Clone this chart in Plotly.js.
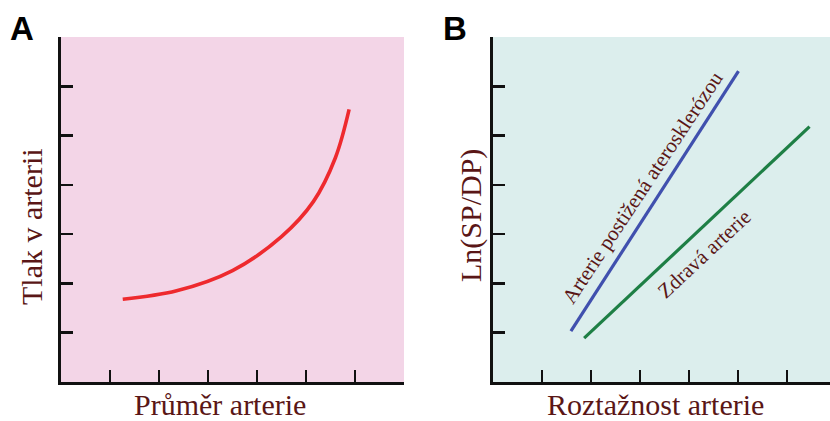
<!DOCTYPE html>
<html>
<head>
<meta charset="utf-8">
<script src="https://cdn.plot.ly/plotly-3.0.1.min.js"></script>
<style>
  html, body { margin: 0; padding: 0; background: #ffffff; overflow: hidden; }
  #chart { width: 830px; height: 421px; }
</style>
</head>
<body>
<div id="chart"></div>
<script>
// Panel A: arterial pressure as a function of arterial diameter
const diameterA = [1.26, 2.36, 3.50, 4.50, 5.15, 5.60, 5.88];
const pressureA = [1.68, 1.85, 2.26, 2.95, 3.66, 4.55, 5.53];

// Panel B: ln(SP/DP) against arterial distensibility
const distensAthero = [1.59, 5.01];
const lnRatioAthero = [1.03, 6.31];
const distensHealthy = [1.86, 6.46];
const lnRatioHealthy = [0.89, 5.18];

const tickValues = [1, 2, 3, 4, 5, 6, 7];
const labelAthero = 'Arterie postižená aterosklerózou';
const labelHealthy = 'Zdravá arterie';
const titleAx = 'Průměr arterie';
const titleAy = 'Tlak v arterii';
const titleBx = 'Roztažnost arterie';
const titleBy = 'Ln(SP/DP)';

const W = 830, H = 421;
const px = v => v / W;
const py = v => 1 - v / H;

const serif = 'Liberation Serif, Times New Roman, serif';
const maroon = '#5a1616';

const axisStyle = {
  showline: true, linecolor: '#111', linewidth: 2.8,
  ticks: 'inside', ticklen: 12, tickwidth: 2.6, tickcolor: '#111',
  tickvals: tickValues, showticklabels: false,
  showgrid: false, zeroline: false, fixedrange: true
};

const traces = [
  { x: diameterA, y: pressureA, xaxis: 'x', yaxis: 'y', mode: 'lines',
    line: { color: '#ee2a2e', width: 3.6, shape: 'spline', smoothing: 1 },
    hoverinfo: 'skip', showlegend: false },
  { x: distensAthero, y: lnRatioAthero, xaxis: 'x2', yaxis: 'y2', mode: 'lines',
    line: { color: '#4050ae', width: 3.2 }, hoverinfo: 'skip', showlegend: false },
  { x: distensHealthy, y: lnRatioHealthy, xaxis: 'x2', yaxis: 'y2', mode: 'lines',
    line: { color: '#1e7f45', width: 3.2 }, hoverinfo: 'skip', showlegend: false }
];

const layout = {
  width: W, height: H,
  margin: { l: 0, r: 0, t: 0, b: 0 },
  paper_bgcolor: '#ffffff', plot_bgcolor: 'rgba(0,0,0,0)',
  showlegend: false,
  xaxis: Object.assign({}, axisStyle, { domain: [px(61), px(404)], range: [0, 7], anchor: 'y' }),
  yaxis: Object.assign({}, axisStyle, { domain: [py(382), py(37)], range: [0, 7], anchor: 'x' }),
  xaxis2: Object.assign({}, axisStyle, { domain: [px(493), 1], range: [0, (830 - 493) / 49], anchor: 'y2' }),
  yaxis2: Object.assign({}, axisStyle, { domain: [py(382), py(37)], range: [0, 7], anchor: 'x2' }),
  shapes: [
    { type: 'rect', xref: 'x domain', yref: 'y domain', x0: 0, x1: 1, y0: 0, y1: 1,
      fillcolor: '#f3d5e7', line: { width: 0 }, layer: 'below' },
    { type: 'rect', xref: 'x2 domain', yref: 'y2 domain', x0: 0, x1: 1, y0: 0, y1: 1,
      fillcolor: '#dceeed', line: { width: 0 }, layer: 'below' }
  ],
  annotations: [
    { text: '<b>A</b>', xref: 'paper', yref: 'paper', x: px(8), y: py(28),
      xanchor: 'left', yanchor: 'middle', showarrow: false,
      font: { family: 'Liberation Sans, Arial, sans-serif', size: 33, color: '#000' } },
    { text: '<b>B</b>', xref: 'paper', yref: 'paper', x: px(441), y: py(28),
      xanchor: 'left', yanchor: 'middle', showarrow: false,
      font: { family: 'Liberation Sans, Arial, sans-serif', size: 33, color: '#000' } },
    { text: titleAy, xref: 'paper', yref: 'paper', x: px(31), y: py(227), textangle: -90,
      xanchor: 'center', yanchor: 'middle', showarrow: false,
      font: { family: serif, size: 30, color: maroon } },
    { text: titleAx, xref: 'paper', yref: 'paper', x: px(220), y: py(404),
      xanchor: 'center', yanchor: 'middle', showarrow: false,
      font: { family: serif, size: 30, color: maroon } },
    { text: titleBy, xref: 'paper', yref: 'paper', x: px(471), y: py(216), textangle: -90,
      xanchor: 'center', yanchor: 'middle', showarrow: false,
      font: { family: serif, size: 30, color: maroon } },
    { text: titleBx, xref: 'paper', yref: 'paper', x: px(655), y: py(404),
      xanchor: 'center', yanchor: 'middle', showarrow: false,
      font: { family: serif, size: 30, color: maroon } },
    { text: labelAthero, xref: 'x2', yref: 'y2', x: 3.06, y: 3.95, textangle: -56.5,
      xanchor: 'center', yanchor: 'middle', showarrow: false,
      font: { family: serif, size: 21, color: maroon } },
    { text: labelHealthy, xref: 'x2', yref: 'y2', x: 4.31, y: 2.60, textangle: -43,
      xanchor: 'center', yanchor: 'middle', showarrow: false,
      font: { family: serif, size: 21, color: maroon } }
  ]
};

Plotly.newPlot('chart', traces, layout, { staticPlot: true, displayModeBar: false });
</script>
</body>
</html>
